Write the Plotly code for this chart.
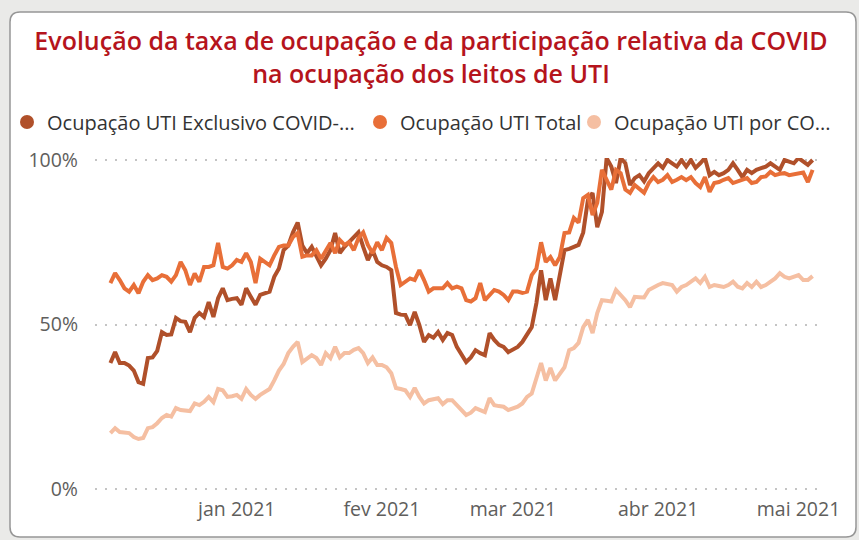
import pandas as pd
import plotly.graph_objects as go

# daily values, in percent, from 5 Dec 2020 to 4 May 2021
start_date = "2020-12-05"

ocup_total = [
    62.6, 65.6, 63.5, 61, 60, 62, 59.5, 63, 65, 63.5,
    64, 65, 64.5, 63, 65, 69, 66.5, 62, 65.5, 63,
    67.5, 67.5, 68, 74.8, 67.5, 67, 68, 69.6, 69, 71.7,
    69, 62.6, 70, 69, 68, 71, 73.6, 74, 74, 76.6,
    77.8, 70.6, 71, 71, 72.6, 70, 72.6, 74.8, 71.7, 75.7,
    74.2, 75, 72.6, 76.3, 78, 74.2, 71.7, 75, 72.6, 76.3,
    74.8, 67.5, 62, 63, 64, 63.5, 66.5, 63.5, 60, 61,
    61, 61, 62.6, 61, 61.5, 61, 57.4, 57, 58, 62.6,
    57.4, 59, 60.5, 60, 59, 57.4, 60, 60, 59.6, 60,
    65, 67, 75, 69, 70.5, 68, 70.5, 77.8, 78, 82.4,
    81, 88.4, 89.4, 83.3, 87, 97, 94, 91, 97, 96,
    91, 90, 92.4, 91, 90, 93, 94.8, 93.3, 94, 95.4,
    93.3, 94, 94.8, 93.9, 94.8, 93, 91.8, 94.8, 90.3, 93,
    93.3, 94, 94.5, 93, 93.5, 93.9, 94.5, 93, 93.3, 94.8,
    95, 96.4, 95.4, 95.8, 96, 95.4, 95.7, 96, 96.2, 93.3,
    97,
]

ocup_exclusivo = [
    38.3, 41.6, 38.3, 38.3, 37.5, 36, 32.5, 32, 39.8, 40,
    42, 47.7, 46.8, 47, 52, 51, 50.8, 47.7, 52, 53.5,
    52.3, 56.8, 52.3, 58, 61, 57.4, 57.8, 58, 56, 61,
    58.4, 56, 59, 59.5, 60, 64.5, 67, 72.6, 74, 78,
    81, 74, 71.7, 73.6, 70.6, 68, 70, 72.6, 77.8, 71.7,
    73.6, 75, 76.6, 78, 73.6, 69.6, 72.6, 69, 68, 67.5,
    66.5, 53.5, 53, 52.9, 49.8, 53.8, 49.8, 44.7, 46.8, 46,
    47.7, 45.3, 47.4, 46.8, 43.2, 41, 38.6, 40, 42.2, 41.3,
    40.7, 47.4, 45.3, 43.8, 43.2, 41.6, 42.5, 43.2, 44.7, 47,
    49.2, 56.5, 66.5, 57.4, 64, 57.4, 65, 72.6, 73, 73.6,
    74.2, 78, 87.8, 90, 79.6, 84.2, 100.6, 98, 93, 100.6,
    99, 92.4, 94.5, 95.4, 93.5, 96, 97.6, 99, 97.6, 100,
    99, 98, 100, 98, 100, 97.6, 99, 100.6, 95.4, 96.4,
    95.4, 96, 97, 99, 97, 94.8, 97, 96, 97, 97.6,
    98, 99, 98, 97, 100, 99.5, 99, 100.6, 99.4, 98.5,
    100,
]

ocup_por_covid = [
    17, 18.5, 17.3, 17.3, 17, 15.8, 15.2, 15.5, 18.5, 18.8,
    20, 21.6, 22.5, 22, 24.6, 24, 24, 23.7, 26, 25.5,
    26.5, 28, 26.4, 30.4, 30, 28, 28.2, 28.6, 27.4, 30.4,
    28.6, 27.4, 28.6, 29.5, 30.4, 33, 36, 38, 41.3, 43.2,
    44.7, 38.6, 39.5, 40.7, 39.8, 37.7, 41.3, 39.8, 43.2, 40,
    41.3, 41.3, 42.3, 42.8, 41.3, 38.3, 40, 37.7, 37.7, 37,
    35.2, 30.7, 30.4, 30, 28, 30.7, 28, 26, 27, 27.3,
    27.6, 25.8, 27, 27, 25.5, 24, 22.5, 23.2, 24.6, 24,
    23.4, 27.6, 25.5, 25.2, 25, 24, 24.5, 25, 26, 28,
    29, 34, 38.3, 33, 36.8, 33, 35, 37, 42.2, 42.8,
    44.4, 49.2, 51.4, 47.4, 53.5, 57.4, 57.2, 57, 60.5, 59,
    57.4, 55.3, 58.4, 58.3, 58.2, 60.5, 61.4, 62, 62.6, 62.3,
    62, 60, 61.4, 62, 63, 64, 62.6, 64.5, 61.4, 62,
    61.7, 61.4, 62, 63, 61.5, 61, 62.6, 61.4, 63, 61.4,
    62, 63, 64, 65.6, 64.5, 64, 64.5, 65, 63.5, 63.5,
    64.7,
]

series_names = [
    "Ocupação UTI Exclusivo COVID-...",
    "Ocupação UTI Total",
    "Ocupação UTI por CO...",
]
series_colors = ["#b0502a", "#e86f38", "#f5bfa2"]

month_ticks = ["2021-01-01", "2021-02-01", "2021-03-01", "2021-04-01", "2021-05-01"]
month_labels = ["jan 2021", "fev 2021", "mar 2021", "abr 2021", "mai 2021"]
y_ticks = [0, 50, 100]
y_labels = ["0%", "50%", "100%"]

assert len(ocup_total) == len(ocup_exclusivo) == len(ocup_por_covid)
dates = pd.date_range(start_date, periods=len(ocup_total), freq="D")

# plot area in pixels: 0% sits at y=489 and 100% at y=160
W, H = 859, 540
PL, PR, PT, PB = 95, 820, 158, 491
PX_PER_PCT = (489 - 160) / 100
FONT = "Segoe UI, Open Sans, sans-serif"


def _px_x(px):
    return (px - PL) / (PR - PL)


def _px_y(py):
    return (PB - py) / (PB - PT)


def _rounded_rect(x0, y0, x1, y1, r):
    """Return an SVG path (paper coords) for a rounded rectangle given in pixels."""
    rx = r / (PR - PL)
    ry = r / (PB - PT)
    a, b, c, d = _px_x(x0), _px_x(x1), _px_y(y1), _px_y(y0)
    return (
        f"M {a + rx},{c} L {b - rx},{c} Q {b},{c} {b},{c + ry} "
        f"L {b},{d - ry} Q {b},{d} {b - rx},{d} "
        f"L {a + rx},{d} Q {a},{d} {a},{d - ry} "
        f"L {a},{c + ry} Q {a},{c} {a + rx},{c} Z"
    )


fig = go.Figure()

legend_ids = ["legend", "legend2", "legend3"]
for name, values, color, leg in zip(
    series_names, [ocup_exclusivo, ocup_total, ocup_por_covid], series_colors, legend_ids
):
    fig.add_trace(
        go.Scatter(
            x=dates,
            y=values,
            mode="lines",
            line={"color": color, "width": 4},
            name=name,
            legendgroup=name,
            showlegend=False,
        )
    )
    # legend entry with a round symbol, like the original
    fig.add_trace(
        go.Scatter(
            x=[None],
            y=[None],
            mode="markers",
            marker={"color": color, "size": 14},
            name=name,
            legendgroup=name,
            legend=leg,
        )
    )

fig.add_shape(
    type="path",
    path=_rounded_rect(10, 12, 856, 537, 10),
    xref="paper",
    yref="paper",
    fillcolor="white",
    line={"color": "#969696", "width": 1.5},
    layer="below",
)

legend_style = {
    "orientation": "h",
    "xanchor": "left",
    "y": _px_y(122),
    "yanchor": "middle",
    "font": {"family": FONT, "size": 20, "color": "#333333"},
    "itemwidth": 30,
    "bgcolor": "rgba(0,0,0,0)",
}

fig.update_layout(
    width=W,
    height=H,
    margin={"l": PL, "r": W - PR, "t": PT, "b": H - PB, "autoexpand": False},
    paper_bgcolor="#eaeae8",
    plot_bgcolor="rgba(0,0,0,0)",
    font={"family": FONT, "color": "#605e5c"},
    title={
        "text": "Evolução da taxa de ocupação e da participação relativa da COVID"
        "<br>na ocupação dos leitos de UTI",
        "x": 431 / W,
        "xanchor": "center",
        "y": 1 - 50 / H,
        "yanchor": "top",
        "font": {"family": FONT, "size": 25, "color": "#b5141c", "weight": 600},
    },
    legend={**legend_style, "x": _px_x(7)},
    legend2={**legend_style, "x": _px_x(360)},
    legend3={**legend_style, "x": _px_x(574)},
    showlegend=True,
)

fig.update_xaxes(
    range=["2020-12-01 17:00", "2021-05-05 14:00"],
    tickvals=month_ticks,
    ticktext=month_labels,
    showgrid=False,
    showline=False,
    zeroline=False,
    ticks="",
    ticklen=0,
    ticklabelstandoff=4,
    tickfont={"size": 19.5, "color": "#605e5c"},
)

fig.update_yaxes(
    range=[-(PB - 489) / PX_PER_PCT, 100 + (160 - PT) / PX_PER_PCT],
    tickvals=y_ticks,
    ticktext=y_labels,
    showgrid=True,
    gridcolor="#c4c4c4",
    gridwidth=1.5,
    griddash="2px,8px",
    showline=False,
    zeroline=False,
    ticks="",
    ticklen=0,
    ticklabelstandoff=16,
    tickfont={"size": 19.5, "color": "#605e5c"},
)

# drop the default 8px page margin so the figure fills the window exactly
fig.write_html(
    "out.html",
    config={"displayModeBar": False},
    post_script="document.body.style.margin = '0';",
)
